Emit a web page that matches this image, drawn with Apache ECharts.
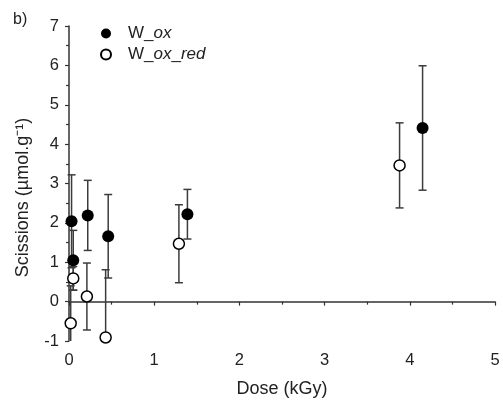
<!DOCTYPE html>
<html>
<head>
<meta charset="utf-8">
<script src="https://cdn.jsdelivr.net/npm/echarts@6/dist/echarts.min.js"></script>
<style>html,body{margin:0;padding:0;background:#fff;}#c{width:503px;height:404px;}</style>
</head>
<body>
<div id="c"></div>
<script>
// Data
var oxDose  = [0.03, 0.05, 0.22, 0.46, 1.39, 4.15];
var oxVal   = [2.04, 1.05, 2.19, 1.66, 2.22, 4.41];
var oxErr   = [1.18, 0.76, 0.89, 1.06, 0.63, 1.58];

var redDose = [0.02, 0.05, 0.21, 0.43, 1.29, 3.88];
var redVal  = [-0.55, 0.59, 0.13, -0.91, 1.47, 3.46];
var redErr  = [0.95, 0.30, 0.85, 1.72, 0.99, 1.08];

var xTicks = [0, 1, 2, 3, 4, 5];
var yTicks = [-1, 0, 1, 2, 3, 4, 5, 6, 7];

var font = 'Liberation Sans, Arial, sans-serif';

function pts(xs, ys) { return xs.map(function (x, i) { return [x, ys[i]]; }); }
function errs(xs, ys, es) { return xs.map(function (x, i) { return [x, ys[i] - es[i], ys[i] + es[i]]; }); }

var yMin = yTicks[0], yMax = yTicks[yTicks.length - 1];

function errRender(params, api) {
  var x = api.value(0);
  var lo = Math.max(api.value(1), yMin);
  var hi = Math.min(api.value(2), yMax);
  var pLo = api.coord([x, lo]);
  var pHi = api.coord([x, hi]);
  var hw = 4;
  var style = { stroke: '#3c3c3c', lineWidth: 1.5 };
  var children = [
    { type: 'line', shape: { x1: pLo[0], y1: pLo[1], x2: pHi[0], y2: pHi[1] }, style: style }
  ];
  if (api.value(2) <= yMax) children.push({ type: 'line', shape: { x1: pHi[0] - hw, y1: pHi[1], x2: pHi[0] + hw, y2: pHi[1] }, style: style });
  if (api.value(1) >= yMin) children.push({ type: 'line', shape: { x1: pLo[0] - hw, y1: pLo[1], x2: pLo[0] + hw, y2: pLo[1] }, style: style });
  return { type: 'group', children: children };
}

var chart = echarts.init(document.getElementById('c'), null, { renderer: 'canvas' });
chart.setOption({
  animation: false,
  backgroundColor: '#fff',
  title: { text: 'b)', left: 8, top: 7, textStyle: { fontFamily: font, fontSize: 16, fontWeight: 'normal', color: '#222' } },
  grid: { left: 69, right: 8, top: 26, bottom: 63 },
  legend: {
    data: ['W_ox', 'W_ox_red'],
    orient: 'vertical',
    left: 95, top: 20,
    itemWidth: 10, itemHeight: 10, itemGap: 4,
    formatter: function (n) { return n === 'W_ox' ? '{n|W_}{i|ox}' : '{n|W_}{i|ox}{n|_}{i|red}'; },
    textStyle: {
      fontFamily: font, fontSize: 17, color: '#222', padding: [0, 0, 0, 12],
      rich: {
        n: { fontFamily: font, fontSize: 17, color: '#222', lineHeight: 16 },
        i: { fontFamily: font, fontSize: 17, fontStyle: 'italic', color: '#222', lineHeight: 16 }
      }
    }
  },
  xAxis: {
    type: 'value', min: xTicks[0], max: xTicks[xTicks.length - 1], interval: 1,
    name: 'Dose (kGy)', nameLocation: 'middle', nameGap: 39,
    nameTextStyle: { fontFamily: font, fontSize: 18, color: '#222' },
    axisLine: { lineStyle: { color: '#333', width: 1.5 } },
    axisTick: { show: true, inside: false, length: 4, lineStyle: { color: '#333', width: 1.2 } },
    minorTick: { show: true, splitNumber: 2, length: 3, lineStyle: { color: '#333', width: 1.2 } },
    axisLabel: { fontFamily: font, fontSize: 16.5, color: '#222', margin: 11 },
    splitLine: { show: false }
  },
  yAxis: {
    type: 'value', min: yMin, max: yMax, interval: 1,
    name: 'Scissions (µmol.g⁻¹)', nameLocation: 'middle', nameGap: 37, nameRotate: 90,
    nameTextStyle: { fontFamily: font, fontSize: 18, color: '#222', padding: [0, 28, 0, 0] },
    axisLine: { lineStyle: { color: '#333', width: 1.5 } },
    axisTick: { show: true, inside: false, length: 4, lineStyle: { color: '#333', width: 1.2 } },
    minorTick: { show: true, splitNumber: 2, length: 3, lineStyle: { color: '#333', width: 1.2 } },
    axisLabel: { fontFamily: font, fontSize: 16.5, color: '#222', margin: 10 },
    splitLine: { show: false }
  },
  series: [
    { name: 'W_ox_err', type: 'custom', renderItem: errRender, data: errs(oxDose, oxVal, oxErr), z: 1, silent: true },
    { name: 'W_ox_red_err', type: 'custom', renderItem: errRender, data: errs(redDose, redVal, redErr), z: 1, silent: true },
    { name: 'W_ox', type: 'scatter', symbol: 'circle', symbolSize: 12, data: pts(oxDose, oxVal), z: 3,
      itemStyle: { color: '#000', borderColor: '#000', borderWidth: 0, opacity: 1 } },
    { name: 'W_ox_red', type: 'scatter', symbol: 'circle', symbolSize: 11, data: pts(redDose, redVal), z: 3,
      itemStyle: { color: '#fff', borderColor: '#000', borderWidth: 1.5, opacity: 1 } }
  ]
});
</script>
</body>
</html>
